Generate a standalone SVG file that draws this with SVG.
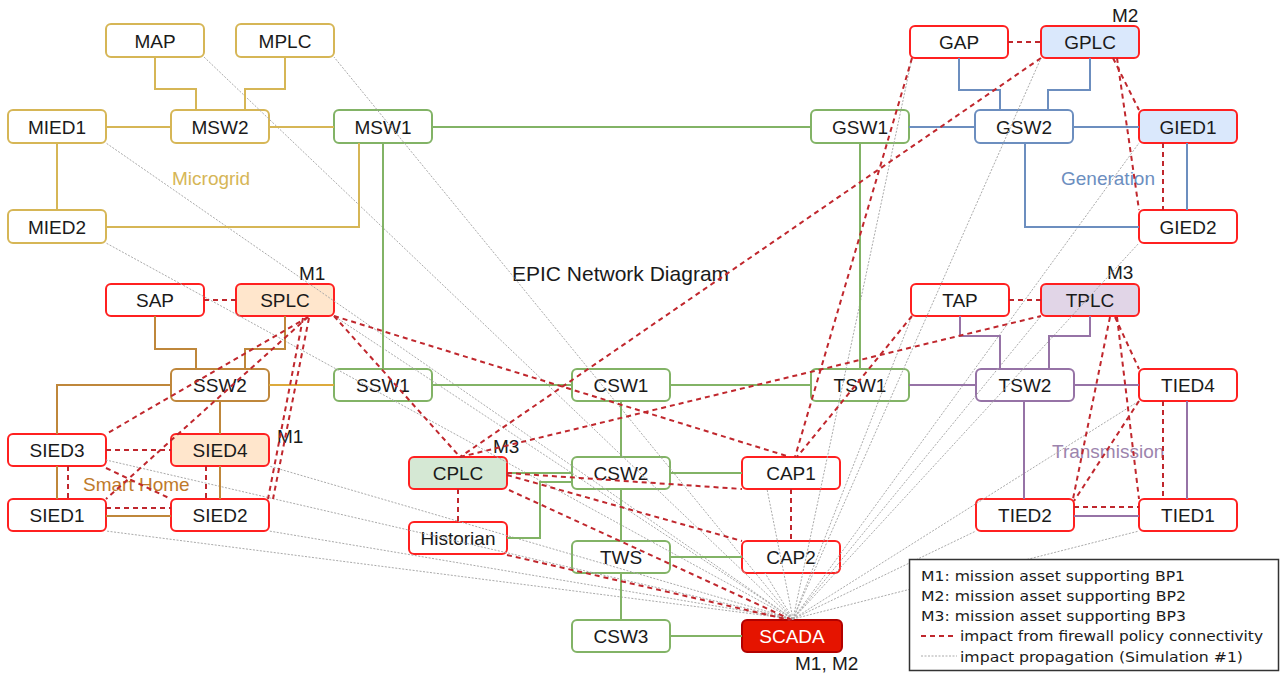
<svg xmlns="http://www.w3.org/2000/svg" width="1282" height="677" viewBox="0 0 1282 677">
  <style>
    .n rect { stroke-width: 2; fill: #ffffff; }
    .n text { font-family: "Liberation Sans", Arial, sans-serif; font-size: 19px; fill: #1a1a1a; text-anchor: middle; }
    .mg rect { stroke: #d6b656; }
    .gr rect { stroke: #82b366; }
    .bl rect { stroke: #6c8ebf; }
    .pu rect { stroke: #9673a6; }
    .br rect { stroke: #bf873b; }
    .rd rect { stroke: #ff2020; }
    .fb rect { fill: #dae8fc; }
    .fo rect { fill: #ffe6cc; }
    .fg rect { fill: #d5e8d4; }
    .fp rect { fill: #e1d5e7; }
    .sc rect { fill: #e51400; stroke: #b20000; }
    .sc text { fill: #ffffff; }
    .lbl { font-family: "Liberation Sans", Arial, sans-serif; font-size: 19px; fill: #1a1a1a; }
    .grp { font-family: "Liberation Sans", Arial, sans-serif; font-size: 19px; }
    .c { fill: none; stroke-width: 2; }
    .c-mg { stroke: #d6b656; }
    .c-gr { stroke: #82b366; }
    .c-bl { stroke: #6c8ebf; }
    .c-pu { stroke: #9673a6; }
    .c-br { stroke: #bf873b; }
    .c-go { stroke: #dcaa3c; }
    .fw { fill: none; stroke: #c0272d; stroke-width: 2; stroke-dasharray: 5 4; }
    .ip { fill: none; stroke: #aaaaaa; stroke-width: 1; stroke-dasharray: 2 1.5; }
    .lg { font-family: "DejaVu Sans", Verdana, sans-serif; font-size: 14.5px; fill: #1a1a1a; }
  </style>

  <!-- zone captions and title -->
  <text class="grp" x="172" y="185" fill="#d6b656">Microgrid</text>
  <text class="grp" x="1061" y="185" fill="#6c8ebf">Generation</text>
  <text class="grp" x="1052" y="458" fill="#9c84ad">Transmission</text>
  <text class="grp" x="83" y="491" fill="#c07a2a">Smart Home</text>
  <text x="512" y="281" font-family="'Liberation Sans', Arial, sans-serif" font-size="21" fill="#1a1a1a">EPIC Network Diagram</text>

  <!-- nodes -->
  <g id="MAP" class="n mg"><rect x="106" y="24" width="98" height="33" rx="5"/><text x="155" y="47.5">MAP</text></g>
  <g id="MPLC" class="n mg"><rect x="236" y="24" width="98" height="33" rx="5"/><text x="285" y="47.5">MPLC</text></g>
  <g id="MIED1" class="n mg"><rect x="8" y="110" width="98" height="33" rx="5"/><text x="57" y="133.5">MIED1</text></g>
  <g id="MSW2" class="n mg"><rect x="171" y="110" width="98" height="33" rx="5"/><text x="220" y="133.5">MSW2</text></g>
  <g id="MSW1" class="n gr"><rect x="334" y="110" width="98" height="33" rx="5"/><text x="383" y="133.5">MSW1</text></g>
  <g id="MIED2" class="n mg"><rect x="8" y="210" width="98" height="33" rx="5"/><text x="57" y="233.5">MIED2</text></g>

  <g id="GAP" class="n rd"><rect x="910" y="26" width="98" height="32" rx="5"/><text x="959" y="49">GAP</text></g>
  <g id="GPLC" class="n rd fb"><rect x="1041" y="26" width="98" height="32" rx="5"/><text x="1090" y="49">GPLC</text></g>
  <g id="GSW1" class="n gr"><rect x="811" y="110" width="98" height="33" rx="5"/><text x="860" y="133.5">GSW1</text></g>
  <g id="GSW2" class="n bl"><rect x="975" y="110" width="98" height="33" rx="5"/><text x="1024" y="133.5">GSW2</text></g>
  <g id="GIED1" class="n rd fb"><rect x="1139" y="110" width="98" height="33" rx="5"/><text x="1188" y="133.5">GIED1</text></g>
  <g id="GIED2" class="n rd"><rect x="1139" y="210" width="98" height="33" rx="5"/><text x="1188" y="233.5">GIED2</text></g>

  <g id="SAP" class="n rd"><rect x="106" y="284" width="98" height="32" rx="5"/><text x="155" y="307">SAP</text></g>
  <g id="SPLC" class="n rd fo"><rect x="236" y="284" width="98" height="32" rx="5"/><text x="285" y="307">SPLC</text></g>
  <g id="SSW2" class="n br"><rect x="171" y="369" width="98" height="32" rx="5"/><text x="220" y="392">SSW2</text></g>
  <g id="SSW1" class="n gr"><rect x="334" y="369" width="98" height="32" rx="5"/><text x="383" y="392">SSW1</text></g>
  <g id="SIED3" class="n rd"><rect x="8" y="434" width="98" height="32" rx="5"/><text x="57" y="457">SIED3</text></g>
  <g id="SIED4" class="n rd fo"><rect x="171" y="434" width="98" height="32" rx="5"/><text x="220" y="457">SIED4</text></g>
  <g id="SIED1" class="n rd"><rect x="8" y="499" width="98" height="32" rx="5"/><text x="57" y="522">SIED1</text></g>
  <g id="SIED2" class="n rd"><rect x="171" y="499" width="98" height="32" rx="5"/><text x="220" y="522">SIED2</text></g>

  <g id="CSW1" class="n gr"><rect x="572" y="369" width="98" height="32" rx="5"/><text x="621" y="392">CSW1</text></g>
  <g id="CPLC" class="n rd fg"><rect x="409" y="457" width="98" height="32" rx="5"/><text x="458" y="480">CPLC</text></g>
  <g id="CSW2" class="n gr"><rect x="572" y="457" width="98" height="32" rx="5"/><text x="621" y="480">CSW2</text></g>
  <g id="CAP1" class="n rd"><rect x="742" y="457" width="98" height="32" rx="5"/><text x="791" y="480">CAP1</text></g>
  <g id="Historian" class="n rd"><rect x="409" y="522" width="98" height="32" rx="5"/><text x="458" y="545">Historian</text></g>
  <g id="TWS" class="n gr"><rect x="572" y="541" width="98" height="32" rx="5"/><text x="621" y="564">TWS</text></g>
  <g id="CAP2" class="n rd"><rect x="742" y="541" width="98" height="32" rx="5"/><text x="791" y="564">CAP2</text></g>
  <g id="CSW3" class="n gr"><rect x="572" y="620" width="98" height="32" rx="5"/><text x="621" y="643">CSW3</text></g>
  <g id="SCADA" class="n sc"><rect x="742" y="620" width="100" height="32" rx="5"/><text x="792" y="643">SCADA</text></g>

  <g id="TAP" class="n rd"><rect x="911" y="284" width="98" height="32" rx="5"/><text x="960" y="307">TAP</text></g>
  <g id="TPLC" class="n rd fp"><rect x="1041" y="284" width="98" height="32" rx="5"/><text x="1090" y="307">TPLC</text></g>
  <g id="TSW1" class="n gr"><rect x="811" y="369" width="98" height="32" rx="5"/><text x="860" y="392">TSW1</text></g>
  <g id="TSW2" class="n pu"><rect x="976" y="369" width="98" height="32" rx="5"/><text x="1025" y="392">TSW2</text></g>
  <g id="TIED4" class="n rd"><rect x="1139" y="369" width="98" height="32" rx="5"/><text x="1188" y="392">TIED4</text></g>
  <g id="TIED2" class="n rd"><rect x="976" y="499" width="98" height="32" rx="5"/><text x="1025" y="522">TIED2</text></g>
  <g id="TIED1" class="n rd"><rect x="1139" y="499" width="98" height="32" rx="5"/><text x="1188" y="522">TIED1</text></g>

  <!-- mission asset tags -->
  <g id="mission-tags">
    <text class="lbl" x="1112" y="22">M2</text>
    <text class="lbl" x="299" y="280">M1</text>
    <text class="lbl" x="277" y="443">M1</text>
    <text class="lbl" x="493" y="453">M3</text>
    <text class="lbl" x="1107" y="279">M3</text>
    <text class="lbl" x="795" y="670">M1, M2</text>
  </g>

  <!-- connectors -->
  <g id="connectors">
    <!-- impact propagation from SCADA -->
    <g id="propagation">
      <line class="ip" x1="793" y1="619" x2="204" y2="57"/>
      <line class="ip" x1="793" y1="619" x2="334" y2="57"/>
      <line class="ip" x1="793" y1="619" x2="106" y2="143"/>
      <line class="ip" x1="793" y1="619" x2="106" y2="243"/>
      <line class="ip" x1="793" y1="619" x2="334" y2="316"/>
      <line class="ip" x1="793" y1="619" x2="106" y2="460"/>
      <line class="ip" x1="793" y1="619" x2="269" y2="466"/>
      <line class="ip" x1="793" y1="619" x2="106" y2="531"/>
      <line class="ip" x1="793" y1="619" x2="269" y2="531"/>
      <line class="ip" x1="793" y1="619" x2="767" y2="489"/>
      <line class="ip" x1="793" y1="619" x2="765" y2="573"/>
      <line class="ip" x1="793" y1="619" x2="912" y2="58"/>
      <line class="ip" x1="793" y1="619" x2="1041" y2="58"/>
      <line class="ip" x1="793" y1="619" x2="1139" y2="143"/>
      <line class="ip" x1="793" y1="619" x2="1139" y2="243"/>
      <line class="ip" x1="793" y1="619" x2="912" y2="316"/>
      <line class="ip" x1="793" y1="619" x2="1041" y2="316"/>
      <line class="ip" x1="793" y1="619" x2="1139" y2="401"/>
      <line class="ip" x1="793" y1="619" x2="976" y2="531"/>
      <line class="ip" x1="793" y1="619" x2="1139" y2="531"/>
    </g>

    <!-- microgrid links -->
    <path class="c c-mg" d="M155 57 V89 H196 V110"/>
    <path class="c c-mg" d="M285 57 V89 H245 V110"/>
    <path class="c c-mg" d="M106 127 H171"/>
    <path class="c c-mg" d="M269 127 H334"/>
    <path class="c c-mg" d="M57 143 V210"/>
    <path class="c c-mg" d="M106 227 H359 V143"/>

    <!-- control centre backbone -->
    <path class="c c-gr" d="M432 127 H811"/>
    <path class="c c-gr" d="M383 143 V369"/>
    <path class="c c-gr" d="M432 385 H572"/>
    <path class="c c-gr" d="M670 385 H811"/>
    <path class="c c-gr" d="M860 143 V369"/>
    <path class="c c-gr" d="M621 401 V457"/>
    <path class="c c-gr" d="M507 473 H572"/>
    <path class="c c-gr" d="M507 538 H540 V482 H572"/>
    <path class="c c-gr" d="M670 473 H742"/>
    <path class="c c-gr" d="M621 489 V541"/>
    <path class="c c-gr" d="M670 557 H742"/>
    <path class="c c-gr" d="M621 573 V620"/>
    <path class="c c-gr" d="M670 636 H742"/>

    <!-- generation links -->
    <path class="c c-bl" d="M909 127 H975"/>
    <path class="c c-bl" d="M959 58 V90 H1000 V110"/>
    <path class="c c-bl" d="M1090 58 V90 H1048 V110"/>
    <path class="c c-bl" d="M1073 127 H1139"/>
    <path class="c c-bl" d="M1025 143 V227 H1139"/>
    <path class="c c-bl" d="M1187 143 V210"/>

    <!-- transmission links -->
    <path class="c c-pu" d="M909 385 H976"/>
    <path class="c c-pu" d="M960 316 V336 H1000 V369"/>
    <path class="c c-pu" d="M1090 316 V336 H1049 V369"/>
    <path class="c c-pu" d="M1074 385 H1139"/>
    <path class="c c-pu" d="M1024 401 V499"/>
    <path class="c c-pu" d="M1187 401 V499"/>
    <path class="c c-pu" d="M1074 516 H1139"/>

    <!-- smart home links -->
    <path class="c c-br" d="M155 316 V349 H196 V369"/>
    <path class="c c-br" d="M285 316 V349 H245 V369"/>
    <path class="c c-br" d="M171 385 H57 V434"/>
    <path class="c c-br" d="M220 401 V434"/>
    <path class="c c-br" d="M57 466 V499"/>
    <path class="c c-br" d="M220 466 V499"/>
    <path class="c c-br" d="M106 516 H171"/>
    <path class="c c-go" d="M269 385 H334"/>

    <!-- firewall policy connectivity -->
    <g id="firewall">
      <line class="fw" x1="1008" y1="42" x2="1041" y2="42"/>
      <line class="fw" x1="912" y1="58" x2="795" y2="457"/>
      <line class="fw" x1="1041" y1="58" x2="460" y2="457"/>
      <line class="fw" x1="1113" y1="58" x2="1139" y2="110"/>
      <line class="fw" x1="1117" y1="58" x2="1139" y2="210"/>
      <line class="fw" x1="1163" y1="143" x2="1163" y2="210"/>

      <line class="fw" x1="204" y1="300" x2="236" y2="300"/>
      <line class="fw" x1="308" y1="317" x2="106" y2="434"/>
      <line class="fw" x1="308" y1="317" x2="106" y2="499"/>
      <line class="fw" x1="303" y1="318" x2="268" y2="499"/>
      <line class="fw" x1="309" y1="318" x2="273" y2="499"/>
      <line class="fw" x1="106" y1="450" x2="171" y2="450"/>
      <line class="fw" x1="68" y1="466" x2="68" y2="499"/>
      <line class="fw" x1="206" y1="466" x2="206" y2="499"/>
      <line class="fw" x1="106" y1="508" x2="171" y2="508"/>
      <line class="fw" x1="106" y1="468" x2="171" y2="499"/>
      <line class="fw" x1="334" y1="316" x2="460" y2="457"/>
      <line class="fw" x1="334" y1="316" x2="790" y2="457"/>

      <line class="fw" x1="460" y1="457" x2="1041" y2="316"/>
      <line class="fw" x1="507" y1="473" x2="742" y2="489"/>
      <line class="fw" x1="507" y1="475" x2="742" y2="541"/>
      <line class="fw" x1="509" y1="490" x2="792" y2="620"/>
      <line class="fw" x1="458" y1="489" x2="458" y2="522"/>
      <line class="fw" x1="507" y1="555" x2="790" y2="620"/>
      <line class="fw" x1="791" y1="489" x2="791" y2="541"/>

      <line class="fw" x1="912" y1="316" x2="797" y2="457"/>
      <line class="fw" x1="1009" y1="300" x2="1041" y2="300"/>
      <line class="fw" x1="1115" y1="317" x2="1139" y2="369"/>
      <line class="fw" x1="1110" y1="317" x2="1073" y2="499"/>
      <line class="fw" x1="1117" y1="317" x2="1139" y2="499"/>
      <line class="fw" x1="1139" y1="401" x2="1074" y2="501"/>
      <line class="fw" x1="1163" y1="401" x2="1163" y2="499"/>
      <line class="fw" x1="1074" y1="507" x2="1139" y2="507"/>
    </g>
  </g>

  <!-- legend -->
  <g id="legend">
    <rect x="909.5" y="559.5" width="369" height="111" fill="#ffffff" stroke="#333333" stroke-width="1.5"/>
    <text class="lg" x="921" y="581" textLength="264" lengthAdjust="spacingAndGlyphs">M1: mission asset supporting BP1</text>
    <text class="lg" x="921" y="601" textLength="265" lengthAdjust="spacingAndGlyphs">M2: mission asset supporting BP2</text>
    <text class="lg" x="921" y="621" textLength="265" lengthAdjust="spacingAndGlyphs">M3: mission asset supporting BP3</text>
    <line class="fw" x1="921" y1="636" x2="957" y2="636"/>
    <text class="lg" x="960" y="641" textLength="303" lengthAdjust="spacingAndGlyphs">impact from firewall policy connectivity</text>
    <line class="ip" x1="921" y1="656" x2="957" y2="656"/>
    <text class="lg" x="960" y="662" textLength="283" lengthAdjust="spacingAndGlyphs">impact propagation (Simulation #1)</text>
  </g>
</svg>
